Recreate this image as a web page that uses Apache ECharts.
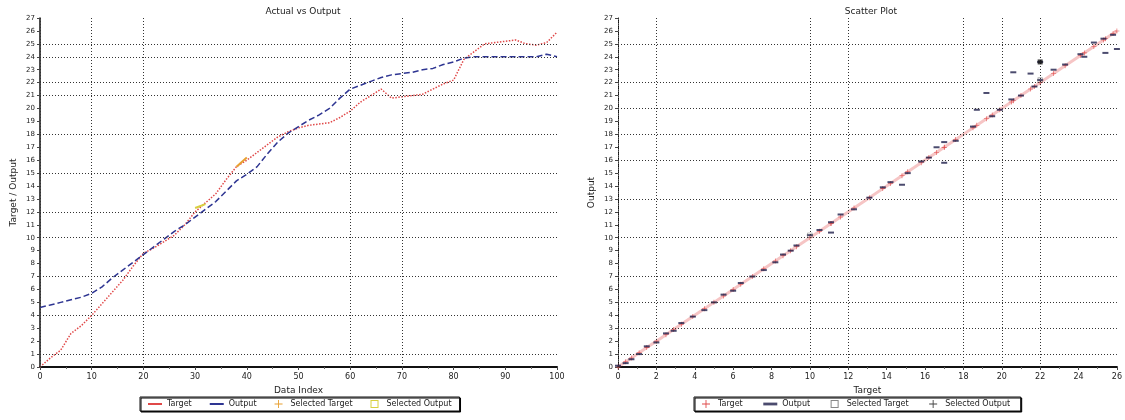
<!DOCTYPE html>
<html>
<head>
<meta charset="utf-8">
<script src="https://cdn.jsdelivr.net/npm/echarts@6/dist/echarts.min.js"></script>
<style>html,body{margin:0;padding:0;background:#fff}#c{width:1125px;height:420px}</style>
</head>
<body>
<div id="c"></div>
<script>
// ---------- Left chart data (index vs value) ----------
var leftIndex = [0,2,4,6,8,10,12,14,16,18,20,22,24,26,28,30,32,34,36,38,40,42,44,46,48,50,52,54,56,58,60,62,64,66,68,70,72,74,76,78,80,82,84,86,88,90,92,94,96,98,100];
var leftTarget = [0.0,0.7,1.3,2.6,3.2,4.0,4.9,5.8,6.7,7.8,8.8,9.2,9.7,10.2,11.0,12.0,12.7,13.4,14.5,15.5,16.0,16.6,17.2,17.8,18.2,18.5,18.7,18.8,18.9,19.3,19.8,20.5,21.0,21.5,20.8,20.9,21.0,21.1,21.5,21.9,22.2,23.8,24.4,25.0,25.1,25.2,25.3,25.0,24.9,25.1,25.9];
var leftOutput = [4.6,4.8,5.0,5.2,5.4,5.7,6.2,6.9,7.5,8.1,8.7,9.3,9.9,10.5,11.0,11.6,12.2,12.8,13.6,14.4,14.9,15.5,16.5,17.4,18.1,18.6,19.1,19.5,20.0,20.8,21.5,21.8,22.1,22.4,22.6,22.7,22.8,23.0,23.1,23.4,23.6,23.9,24.0,24.0,24.0,24.0,24.0,24.0,24.0,24.2,24.0];
var leftSelTargetIndex = [38,40];
var leftSelTarget = [15.5,16.2];
var leftSelOutputIndex = [30,32];
var leftSelOutput = [12.3,12.6];
var leftGridX = [0,10,20,60,70];
var leftGridY = [1,4,7,10,12,15,18,21,22,24,25];

// ---------- Right chart data (target vs output) ----------
var scatterTarget = [0.0,0.4,0.7,1.1,1.5,2.0,2.5,2.9,3.3,3.9,4.5,5.0,5.5,6.0,6.4,7.0,7.6,8.2,8.6,9.0,9.3,10.0,10.5,11.1,11.1,11.6,12.3,13.1,13.8,14.2,14.8,15.1,15.8,16.2,16.6,17.0,17.0,17.6,18.5,18.7,19.2,19.5,19.9,20.5,20.6,21.0,21.5,21.7,22.0,22.0,22.7,23.3,24.1,24.3,24.8,25.4,25.3,25.8,26.0];
var scatterOutput = [0.1,0.3,0.6,1.0,1.6,1.9,2.6,2.8,3.4,3.9,4.4,5.0,5.6,5.9,6.5,7.0,7.5,8.1,8.7,9.0,9.4,10.2,10.6,10.4,11.2,11.8,12.2,13.1,13.9,14.3,14.1,15.0,15.9,16.2,17.0,15.8,17.4,17.5,18.6,19.9,21.2,19.4,19.9,20.7,22.8,21.0,22.7,21.7,23.6,22.2,23.0,23.4,24.2,24.0,25.1,24.3,25.4,25.7,24.6];
var selTargetPts = [[10.0,10.2],[22.0,22.2]];
var selOutputPts = [[22.0,23.6]];
var rightGridX = [0,2,10,12,18,20,22];
var rightGridY = [1,3,5,7,10,13,16,18,20,22,25];

var FONT = 'DejaVu Sans';
function pairs(xs, ys){ var r=[]; for(var i=0;i<xs.length;i++) r.push([xs[i], ys[i]]); return r; }
function gridMarks(xs, ys){
  var d=[];
  xs.forEach(function(v){ d.push({xAxis:v}); });
  ys.forEach(function(v){ d.push({yAxis:v}); });
  return {silent:true, symbol:['none','none'], label:{show:false}, animation:false,
    lineStyle:{type:[1,2], color:'#333', width:1}, emphasis:{disabled:true}, data:d};
}
var plusPath = 'path://M0,4H9V5H0Z M4,0H5V9H4Z';
var dashPath = 'path://M0,0H10V2H0Z';
var sqPath = 'path://M0,0H8V8H0Z M1,1V7H7V1Z';
var linePath = 'path://M0,0H14V2H0Z';

function yAxisCfg(gi, name, gap, lineType){
  return {gridIndex:gi, type:'value', min:0, max:27, interval:1, name:name, nameLocation:'middle', nameGap:gap,
    nameTextStyle:{fontFamily:FONT, fontSize:9, color:'#222'},
    axisLine:{show:true, lineStyle:{color:'#111', width:lineType==='solid'?1.5:1, type:lineType}},
    axisTick:{show:true, length:3, lineStyle:{color:'#444'}},
    axisLabel:{fontFamily:FONT, fontSize:7, color:'#222', margin:5},
    splitLine:{show:false}};
}
function legendCfg(left, items){
  return {left:left, top:397, width:600, orient:'horizontal', itemWidth:14, itemHeight:8, itemGap:18,
    padding:[3,8,3,8], borderColor:'#111', borderWidth:1,
    shadowColor:'#000', shadowOffsetX:1, shadowOffsetY:1, backgroundColor:'#fff',
    textStyle:{fontFamily:FONT, fontSize:8, color:'#222'}, data:items};
}

var option = {
  animation:false,
  backgroundColor:'#fff',
  title:[
    {text:'Actual vs Output', left:298, top:2, textAlign:'center', textStyle:{fontFamily:FONT, fontSize:9, fontWeight:'normal', color:'#222'}},
    {text:'Scatter Plot', left:866, top:2, textAlign:'center', textStyle:{fontFamily:FONT, fontSize:9, fontWeight:'normal', color:'#222'}}
  ],
  grid:[
    {left:40, right:568, top:18, bottom:53},
    {left:618, right:5, top:18, bottom:53}
  ],
  legend:[
    legendCfg(140, [{name:'Target', icon:linePath},{name:'Output', icon:linePath},{name:'Selected Target', icon:plusPath},{name:'Selected Output', icon:sqPath}]),
    legendCfg(694, [{name:'Target ', icon:plusPath},{name:'Output ', icon:dashPath},{name:'Selected Target ', icon:sqPath},{name:'Selected Output ', icon:plusPath}])
  ],
  xAxis:[
    {gridIndex:0, type:'value', min:0, max:100, interval:10, name:'Data Index', nameLocation:'middle', nameGap:19,
     nameTextStyle:{fontFamily:FONT, fontSize:9, color:'#222'},
     axisLine:{lineStyle:{color:'#111', width:2}}, axisTick:{length:3, lineStyle:{color:'#444'}},
     minorTick:{show:true, splitNumber:2, length:2, lineStyle:{color:'#666'}},
     axisLabel:{fontFamily:FONT, fontSize:8, color:'#222', margin:6}, splitLine:{show:false}},
    {gridIndex:1, type:'value', min:0, max:26, interval:2, name:'Target', nameLocation:'middle', nameGap:19,
     nameTextStyle:{fontFamily:FONT, fontSize:9, color:'#222'},
     axisLine:{lineStyle:{color:'#111', width:2}}, axisTick:{length:3, lineStyle:{color:'#444'}},
     minorTick:{show:true, splitNumber:2, length:2, lineStyle:{color:'#666'}},
     axisLabel:{fontFamily:FONT, fontSize:8, color:'#222', margin:6}, splitLine:{show:false}}
  ],
  yAxis:[ yAxisCfg(0,'Target / Output',22,'solid'), yAxisCfg(1,'Output',22,'dotted') ],
  series:[
    {name:'Target', type:'line', xAxisIndex:0, yAxisIndex:0, data:pairs(leftIndex,leftTarget), showSymbol:false,
     lineStyle:{color:'#e04848', width:1.5, type:'dotted'}, itemStyle:{color:'#e04848'}, z:3,
     markLine:gridMarks(leftGridX,leftGridY)},
    {name:'Output', type:'line', xAxisIndex:0, yAxisIndex:0, data:pairs(leftIndex,leftOutput), showSymbol:false,
     lineStyle:{color:'#2e3592', width:1.5, type:'dashed'}, itemStyle:{color:'#2e3592'}, z:3},
    {name:'Selected Target', type:'line', xAxisIndex:0, yAxisIndex:0, data:pairs(leftSelTargetIndex,leftSelTarget), showSymbol:false,
     lineStyle:{color:'#e8a030', width:2}, itemStyle:{color:'#e8a030'}, z:4},
    {name:'Selected Output', type:'line', xAxisIndex:0, yAxisIndex:0, data:pairs(leftSelOutputIndex,leftSelOutput), showSymbol:false,
     lineStyle:{color:'#d8d040', width:2}, itemStyle:{color:'#d8d040'}, z:4},

    {name:'Target ', type:'line', xAxisIndex:1, yAxisIndex:1, data:pairs(scatterTarget,scatterTarget),
     symbol:plusPath, symbolSize:5, lineStyle:{color:'rgba(230,90,90,0.35)', width:3, type:'solid'},
     itemStyle:{color:'#e04848'}, z:3, markLine:gridMarks(rightGridX,rightGridY)},
    {name:'Output ', type:'scatter', xAxisIndex:1, yAxisIndex:1, data:pairs(scatterTarget,scatterOutput),
     symbol:dashPath, symbolSize:[6,2], itemStyle:{color:'#1e1e4a'}, z:4},
    {name:'Selected Target ', type:'scatter', xAxisIndex:1, yAxisIndex:1, data:selTargetPts,
     symbol:sqPath, symbolSize:5, itemStyle:{color:'#6a6a6a'}, z:4},
    {name:'Selected Output ', type:'scatter', xAxisIndex:1, yAxisIndex:1, data:selOutputPts,
     symbol:'rect', symbolSize:5, itemStyle:{color:'#111'}, z:5}
  ]
};
var chart = echarts.init(document.getElementById('c'), null, {renderer:'canvas'});
chart.setOption(option);
</script>
</body>
</html>
